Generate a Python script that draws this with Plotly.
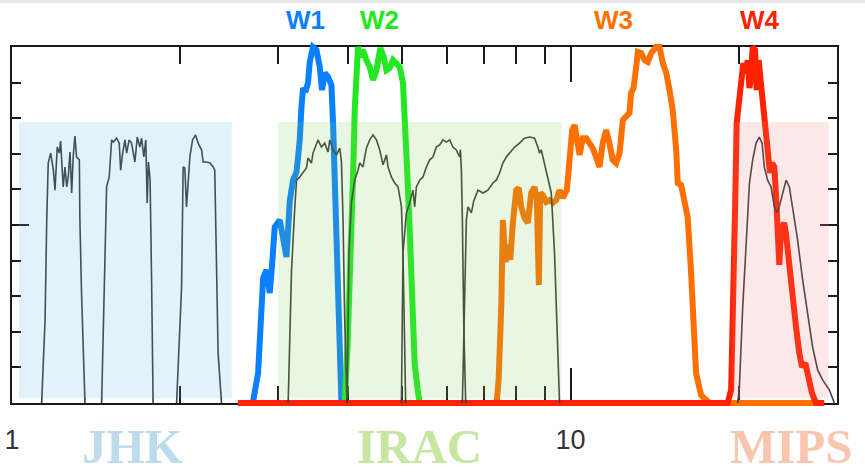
import numpy as np
import plotly.graph_objects as go

# ---------------------------------------------------------------------------
# Relative spectral response curves (wavelength in micron, normalised response)
# ---------------------------------------------------------------------------
# 2MASS J, H, Ks
j_wl = [1.130, 1.146, 1.154, 1.161, 1.173, 1.186, 1.194, 1.205, 1.215, 1.222, 1.230, 1.235,
        1.244, 1.253, 1.261, 1.270, 1.279, 1.287, 1.296, 1.305, 1.320, 1.323, 1.332, 1.341, 1.351]
j_tr = [0.0, 0.233, 0.514, 0.674, 0.702, 0.654, 0.598, 0.719, 0.702, 0.736, 0.654, 0.607,
        0.663, 0.607, 0.635, 0.705, 0.590, 0.691, 0.750, 0.691, 0.683, 0.514, 0.309, 0.140, 0.0]

h_wl = [1.447, 1.467, 1.477, 1.493, 1.508, 1.518, 1.539, 1.556, 1.565, 1.578, 1.593, 1.604,
        1.621, 1.637, 1.660, 1.676, 1.694, 1.706, 1.722, 1.736, 1.746, 1.755, 1.767, 1.778, 1.789]
h_tr = [0.0, 0.421, 0.607, 0.635, 0.739, 0.733, 0.744, 0.730, 0.654, 0.702, 0.739, 0.702,
        0.739, 0.730, 0.677, 0.747, 0.719, 0.744, 0.691, 0.739, 0.562, 0.677, 0.626, 0.346, 0.0]

k_wl = [1.971, 2.012, 2.025, 2.039, 2.053, 2.067, 2.082, 2.105, 2.131, 2.154, 2.185, 2.199,
        2.230, 2.261, 2.292, 2.307, 2.324, 2.339, 2.372]
k_tr = [0.0, 0.326, 0.663, 0.660, 0.551, 0.618, 0.691, 0.739, 0.753, 0.730, 0.711, 0.677,
        0.677, 0.674, 0.663, 0.654, 0.421, 0.140, 0.0]

# Spitzer IRAC channels 1-4
irac1_wl = [3.122, 3.166, 3.209, 3.232, 3.275, 3.320, 3.366, 3.388, 3.436, 3.459, 3.508, 3.531,
            3.581, 3.630, 3.680, 3.706, 3.757, 3.810, 3.862, 3.889, 3.915, 3.942, 3.980]
irac1_tr = [0.0, 0.374, 0.551, 0.626, 0.635, 0.649, 0.660, 0.688, 0.674, 0.702, 0.725, 0.739,
            0.719, 0.730, 0.705, 0.739, 0.711, 0.697, 0.716, 0.677, 0.514, 0.233, 0.0]

irac2_wl = [3.980, 4.012, 4.052, 4.108, 4.164, 4.194, 4.250, 4.310, 4.370, 4.430, 4.493, 4.554,
            4.617, 4.682, 4.713, 4.778, 4.844, 4.911, 4.980, 5.012, 5.033, 5.068]
irac2_tr = [0.0, 0.421, 0.562, 0.626, 0.654, 0.674, 0.663, 0.716, 0.739, 0.753, 0.739, 0.711,
            0.669, 0.697, 0.663, 0.635, 0.618, 0.607, 0.552, 0.421, 0.270, 0.0]

irac3_wl = [4.980, 5.012, 5.083, 5.153, 5.223, 5.259, 5.297, 5.370, 5.443, 5.520, 5.595, 5.671,
            5.751, 5.831, 5.911, 5.993, 6.075, 6.158, 6.244, 6.331, 6.351, 6.377, 6.403, 6.438, 6.491]
irac3_tr = [0.0, 0.421, 0.534, 0.562, 0.598, 0.551, 0.607, 0.626, 0.635, 0.663, 0.683, 0.691,
            0.719, 0.725, 0.739, 0.733, 0.739, 0.719, 0.711, 0.691, 0.711, 0.654, 0.514, 0.233, 0.0]

irac4_wl = [6.403, 6.509, 6.553, 6.645, 6.708, 6.828, 6.970, 7.114, 7.261, 7.364, 7.464, 7.566,
            7.674, 7.778, 7.941, 8.105, 8.273, 8.446, 8.622, 8.740, 8.800, 8.864, 8.985, 9.110,
            9.237, 9.362, 9.452, 9.557]
irac4_tr = [0.0, 0.514, 0.551, 0.534, 0.567, 0.598, 0.590, 0.598, 0.618, 0.626, 0.646, 0.674,
            0.691, 0.702, 0.719, 0.730, 0.744, 0.747, 0.744, 0.719, 0.702, 0.711, 0.674, 0.635,
            0.590, 0.421, 0.233, 0.0]

# Spitzer MIPS 24 micron
mips_wl = [19.93, 20.06, 20.34, 20.62, 20.91, 21.19, 21.49, 21.78, 22.03, 22.23, 22.54, 22.86,
           23.17, 23.49, 23.98, 24.32, 24.65, 24.99, 25.50, 26.04, 26.58, 27.13, 27.70, 28.27,
           29.06, 29.67]
mips_tr = [0.0, 0.045, 0.270, 0.458, 0.618, 0.683, 0.730, 0.747, 0.730, 0.663, 0.626, 0.607,
           0.551, 0.534, 0.590, 0.626, 0.607, 0.551, 0.458, 0.346, 0.253, 0.157, 0.093, 0.065,
           0.037, 0.0]

# WISE W1-W4
w1_wl = [2.612, 2.699, 2.758, 2.789, 2.816, 2.855, 2.894, 2.924, 2.954, 3.016, 3.057, 3.101,
         3.143, 3.186, 3.232, 3.275, 3.298, 3.320, 3.353, 3.388, 3.413, 3.459, 3.508, 3.556,
         3.590, 3.630, 3.680, 3.732, 3.757, 3.783, 3.810, 3.835, 3.862, 3.889]
w1_tr = [0.0, 0.0, 0.084, 0.225, 0.351, 0.374, 0.309, 0.396, 0.494, 0.514, 0.458, 0.410,
         0.567, 0.626, 0.649, 0.739, 0.831, 0.885, 0.874, 0.899, 0.958, 1.0, 0.992, 0.944,
         0.879, 0.927, 0.916, 0.893, 0.787, 0.598, 0.410, 0.225, 0.084, 0.0]

w2_wl = [3.800, 3.942, 3.991, 4.024, 4.058, 4.083, 4.108, 4.134, 4.164, 4.206, 4.250, 4.310,
         4.370, 4.430, 4.493, 4.566, 4.630, 4.682, 4.746, 4.811, 4.879, 4.945, 5.012, 5.057,
         5.099, 5.153, 5.196, 5.259, 5.326, 5.370, 5.600]
w2_tr = [0.0, 0.0, 0.177, 0.317, 0.486, 0.654, 0.823, 0.949, 1.0, 0.972, 0.992, 0.963,
         0.944, 0.907, 0.935, 0.997, 0.972, 0.935, 0.941, 0.963, 0.955, 0.944, 0.899, 0.795,
         0.654, 0.486, 0.298, 0.112, 0.037, 0.0, 0.0]

w3_wl = [7.019, 7.373, 7.435, 7.516, 7.566, 7.650, 7.723, 7.800, 7.884, 7.995, 8.080, 8.160,
         8.273, 8.386, 8.505, 8.622, 8.704, 8.776, 8.827, 8.921, 9.049, 9.171, 9.297, 9.428,
         9.557, 9.688, 9.849, 9.959, 10.07, 10.17, 10.26, 10.38, 10.52, 10.67, 10.81, 10.96,
         11.11, 11.27, 11.42, 11.58, 11.74, 11.90, 12.07, 12.24, 12.41, 12.58, 12.75, 12.84,
         12.97, 13.11, 13.20, 13.38, 13.57, 13.75, 13.95, 14.23, 14.43, 14.63, 14.84, 15.04,
         15.24, 15.46, 15.56, 15.78, 15.99, 16.21, 16.44, 16.60, 16.78, 17.13, 17.73, 27.32]
w3_tr = [0.0, 0.0, 0.065, 0.270, 0.514, 0.396, 0.444, 0.402, 0.506, 0.598, 0.604, 0.551,
         0.520, 0.506, 0.590, 0.607, 0.570, 0.331, 0.590, 0.584, 0.565, 0.570, 0.562, 0.570,
         0.598, 0.576, 0.598, 0.669, 0.767, 0.781, 0.733, 0.697, 0.744, 0.744, 0.730, 0.716,
         0.691, 0.663, 0.730, 0.767, 0.730, 0.683, 0.674, 0.702, 0.795, 0.803, 0.815, 0.871,
         0.885, 0.944, 0.986, 0.983, 0.963, 0.958, 0.983, 1.0, 1.0, 0.955, 0.927, 0.879,
         0.823, 0.711, 0.618, 0.612, 0.556, 0.522, 0.365, 0.177, 0.084, 0.022, 0.0, 0.0]

w4_wl = [2.537, 19.12, 19.39, 19.57, 19.71, 19.84, 20.00, 20.20, 20.39, 20.56, 20.76, 20.91,
         21.05, 21.19, 21.40, 21.54, 21.72, 21.94, 22.14, 22.39, 22.63, 22.76, 22.95, 23.17,
         23.33, 23.58, 23.65, 23.82, 24.14, 24.32, 24.65, 24.99, 25.34, 25.68, 25.97, 26.33,
         26.58, 26.84, 27.06, 27.51, 28.47]
w4_tr = [0.0, 0.0, 0.037, 0.270, 0.551, 0.787, 0.843, 0.913, 0.955, 0.927, 0.963, 0.885,
         0.916, 1.0, 0.992, 0.879, 0.963, 0.893, 0.823, 0.744, 0.663, 0.646, 0.674, 0.663,
         0.584, 0.458, 0.388, 0.486, 0.506, 0.472, 0.374, 0.289, 0.213, 0.140, 0.101, 0.112,
         0.084, 0.070, 0.028, 0.0, 0.0]

# Shaded instrument bands
band_names = ["JHK", "IRAC", "MIPS"]
band_lo = [1.029, 2.998, 19.49]
band_hi = [2.475, 9.63, 29.0]
band_top = 0.789
band_bottom = 0.013
band_label_x = [1.646, 5.37, 24.85]

# WISE label positions
wise_names = ["W1", "W2", "W3", "W4"]
wise_label_x = [3.36, 4.554, 11.94, 21.87]

# ---------------------------------------------------------------------------
# Styling
# ---------------------------------------------------------------------------
band_fill = ["rgba(100,180,230,0.18)", "rgba(127,205,94,0.18)", "rgba(244,128,128,0.18)"]
band_text = ["#bcdcee", "#c6e6a2", "#f8c6ae"]
wise_color = ["#0a80ff", "#22e822", "#ff7000", "#ff2200"]
gray = "#3a3a3a"
axis_col = "#1a1a1a"

X_MAX = 30.0
W, H = 865, 474
M_L, M_R, M_T, M_B = 12, 28, 37, 61
PAD = 10  # extra drawing room around the framed box (px)
box_h = H - M_T - M_B - 2 * PAD
area_h = H - M_T - M_B
area_w = W - M_L - M_R
ext = PAD / box_h


def paper_y(px_from_top):
    """Convert a distance from the top of the page to paper y."""
    return (H - M_B - px_from_top) / area_h


fig = go.Figure()

# Empty trace on the framing axes so the box subplot is created
fig.add_trace(go.Scatter(x=[], y=[], xaxis="x", yaxis="y", showlegend=False, hoverinfo="skip"))

# WISE response curves (thick)
for wl, tr, col in [(w1_wl, w1_tr, wise_color[0]), (w2_wl, w2_tr, wise_color[1]),
                    (w3_wl, w3_tr, wise_color[2]), (w4_wl, w4_tr, wise_color[3])]:
    fig.add_trace(go.Scatter(x=wl, y=tr, mode="lines", xaxis="x2", yaxis="y2",
                             line=dict(color=col, width=6), showlegend=False,
                             hoverinfo="skip"))

# 2MASS / IRAC / MIPS response curves (thin gray)
for wl, tr in [(j_wl, j_tr), (h_wl, h_tr), (k_wl, k_tr),
               (irac1_wl, irac1_tr), (irac2_wl, irac2_tr), (irac3_wl, irac3_tr),
               (irac4_wl, irac4_tr), (mips_wl, mips_tr)]:
    fig.add_trace(go.Scatter(x=wl, y=tr, mode="lines", xaxis="x2", yaxis="y2",
                             line=dict(color=gray, width=1.6), showlegend=False,
                             hoverinfo="skip"))

# Translucent instrument bands on top of the curves
for lo, hi, fill in zip(band_lo, band_hi, band_fill):
    fig.add_shape(type="rect", xref="x2", yref="y2", x0=lo, x1=hi,
                  y0=band_bottom, y1=band_top, fillcolor=fill,
                  line=dict(width=0), layer="above")

# thin light rule along the top edge of the page
fig.add_shape(type="rect", xref="paper", yref="paper",
              x0=-M_L / area_w, x1=1 + M_R / area_w, y0=paper_y(3), y1=paper_y(0),
              fillcolor="#e9e9e9", line=dict(width=0), layer="above")

# WISE band names above the frame
for name, x, col in zip(wise_names, wise_label_x, wise_color):
    fig.add_annotation(x=np.log10(x), y=paper_y(20), xref="x2", yref="paper",
                       text="<b>%s</b>" % name,
                       showarrow=False, xanchor="center", yanchor="middle",
                       font=dict(family="Liberation Sans", size=26, color=col))

# Instrument names below the axis
for name, x, col in zip(band_names, band_label_x, band_text):
    fig.add_annotation(x=np.log10(x), y=paper_y(446), xref="x2", yref="paper",
                       text="<b>%s</b>" % name, borderpad=0,
                       showarrow=False, xanchor="center", yanchor="middle",
                       font=dict(family="Liberation Serif", size=49, color=col))

box_dom = [PAD / area_h, 1 - PAD / area_h]
xr = [0, np.log10(X_MAX)]

fig.update_layout(
    width=W, height=H,
    margin=dict(l=M_L, r=M_R, t=M_T, b=M_B, pad=0, autoexpand=False),
    paper_bgcolor="white",
    plot_bgcolor="rgba(0,0,0,0)",
    showlegend=False,
    xaxis=dict(type="log", range=xr, domain=[0, 1], anchor="y", automargin=False,
               showgrid=False, zeroline=False,
               showline=True, linecolor=axis_col, linewidth=2, mirror="ticks",
               ticks="inside", ticklen=35, tickwidth=1.6, tickcolor=axis_col,
               tickvals=[1, 10], ticktext=["1", "10"], ticklabelstandoff=12,
               tickfont=dict(family="Liberation Sans", size=27, color="#333333"),
               minor=dict(tickvals=[2, 3, 4, 5, 6, 7, 8, 9, 20], ticks="inside",
                          ticklen=17, tickwidth=1.6, tickcolor=axis_col, showgrid=False)),
    yaxis=dict(range=[0, 1], domain=box_dom, anchor="x", automargin=False,
               showgrid=False, zeroline=False,
               showline=True, linecolor=axis_col, linewidth=2, mirror="ticks",
               ticks="inside", ticklen=17, tickwidth=1.6, tickcolor=axis_col,
               tickvals=[0, 0.5, 1], showticklabels=False,
               minor=dict(tickvals=[0.1, 0.2, 0.3, 0.4, 0.6, 0.7, 0.8, 0.9], ticks="inside",
                          ticklen=9, tickwidth=1.6, tickcolor=axis_col, showgrid=False)),
    xaxis2=dict(type="log", range=xr, domain=[0, 1], anchor="y2", visible=False,
                showgrid=False, zeroline=False),
    yaxis2=dict(range=[-ext, 1 + ext], domain=[0, 1], anchor="x2", visible=False,
                showgrid=False, zeroline=False),
)

fig.write_html("out.html")
